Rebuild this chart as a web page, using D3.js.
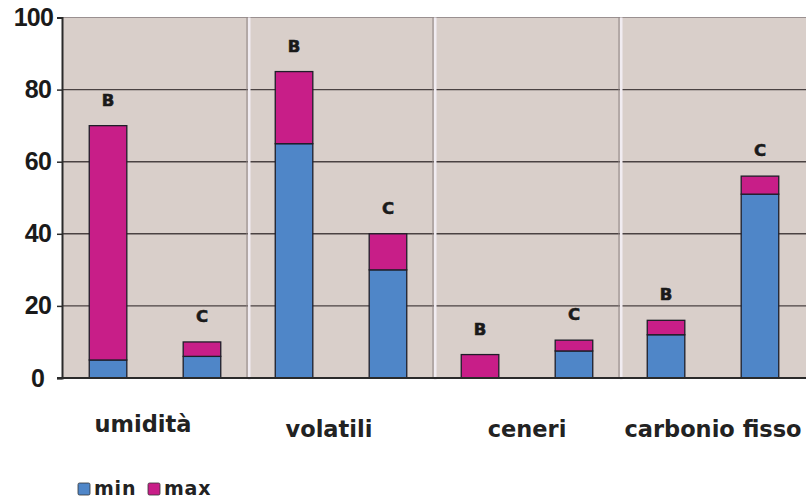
<!DOCTYPE html>
<html><head><meta charset="utf-8">
<script src="https://cdn.jsdelivr.net/npm/d3@7"></script>
<style>body{margin:0;background:#fff}svg{display:block}</style>
</head><body><svg id="c" width="806" height="501"></svg>
<script>
const categories = ["umidità", "volatili", "ceneri", "carbonio fisso"];
const groups = ["B", "C"];
const minB = [5, 65, 0, 12];
const maxB = [70, 85, 6.5, 16];
const minC = [6, 30, 7.5, 51];
const maxC = [10, 40, 10.5, 56];
const yTicks = [0, 20, 40, 60, 80, 100];
const seriesNames = ["min", "max"];

(function () {
const colMin = "#4f86c8", colMax = "#c81e88", bg = "#d9cfca";

const rows = [];
categories.forEach((c, i) => {
  rows.push({cat: c, grp: "B", min: minB[i], max: maxB[i]});
  rows.push({cat: c, grp: "C", min: minC[i], max: maxC[i]});
});

const svg = d3.select("#c");
const mL = 62, mR = 806, mT = 17.5, mB = 378;
const x0 = d3.scaleBand().domain(categories).range([mL, mR]);
const x1 = d3.scaleBand().domain(groups).range([0, x0.bandwidth()]).paddingInner(0.6).paddingOuter(0.29);
const y = d3.scaleLinear().domain([0, 100]).range([mB, mT]);

// background
svg.append("rect").attr("x", mL).attr("y", mT).attr("width", mR - mL).attr("height", mB - mT).attr("fill", bg);
svg.append("line").attr("x1", mL).attr("x2", mR).attr("y1", mT).attr("y2", mT).attr("stroke", "#9a9090").attr("stroke-width", 1);

// gridlines
svg.append("g").selectAll("line").data(yTicks.filter(d => d > 0 && d < 100)).join("line")
  .attr("x1", mL).attr("x2", mR).attr("y1", d => y(d)).attr("y2", d => y(d))
  .attr("stroke", "#4a4242").attr("stroke-width", 1.4);

// separators
categories.slice(1).forEach(c => {
  const xs = x0(c);
  svg.append("line").attr("x1", xs - 1).attr("x2", xs - 1).attr("y1", mT).attr("y2", mB).attr("stroke", "#8c8282").attr("stroke-width", 1);
  svg.append("rect").attr("x", xs).attr("y", mT).attr("width", 2.5).attr("height", mB - mT + 2).attr("fill", "#f1ecf1");
});

// bars
const bars = svg.append("g").selectAll("g").data(rows).join("g")
  .attr("transform", d => `translate(${x0(d.cat) + x1(d.grp)},0)`);
bars.filter(d => d.min > 0).append("rect")
  .attr("y", d => y(d.min)).attr("height", d => y(0) - y(d.min)).attr("width", x1.bandwidth())
  .attr("fill", colMin).attr("stroke", "#1e1e28").attr("stroke-width", 1.3);
bars.append("rect")
  .attr("y", d => y(d.max)).attr("height", d => y(d.min) - y(d.max)).attr("width", x1.bandwidth())
  .attr("fill", colMax).attr("stroke", "#1e1e28").attr("stroke-width", 1.3);
bars.append("text")
  .attr("x", x1.bandwidth() / 2).attr("y", d => y(d.max) - 20)
  .attr("text-anchor", "middle").attr("font-family", "DejaVu Sans").attr("font-weight", "bold")
  .attr("font-size", 16.5).attr("fill", "#1a1a1a").attr("stroke", "#1a1a1a").attr("stroke-width", 0.6).text(d => d.grp);

// bottom axis line
svg.append("line").attr("x1", mL - 5).attr("x2", mR).attr("y1", mB).attr("y2", mB).attr("stroke", "#2a2a2a").attr("stroke-width", 2);

// left axis
const ya = svg.append("g").attr("transform", `translate(${mL},0)`)
  .call(d3.axisLeft(y).tickValues(yTicks).tickSize(5).tickPadding(6).tickFormat(d3.format("d")));
ya.select(".domain").attr("stroke", "#2a2a2a").attr("stroke-width", 2);
ya.selectAll(".tick line").attr("stroke", "#2a2a2a").attr("stroke-width", 1.5);
ya.selectAll("text").attr("font-family", "Liberation Sans").attr("font-weight", "bold")
  .attr("font-size", 25).attr("fill", "#1a1a1a").attr("letter-spacing", -0.8)
  .attr("dx", d => d === 100 ? 2 : (d === 0 ? -7 : 0));

// category labels
svg.append("g").selectAll("text").data(categories).join("text")
  .attr("x", d => x0(d) + x0.bandwidth() / 2 - (d === categories[0] ? 12 : d === categories[1] ? 12 : 0))
  .attr("y", d => d === categories[0] ? 432 : 437)
  .attr("text-anchor", "middle").attr("font-family", "DejaVu Sans").attr("font-weight", "bold")
  .attr("font-size", 22.5).attr("fill", "#222").text(d => d);

// legend
const lg = svg.append("g").attr("transform", "translate(78,483)");
const colors = [colMin, colMax];
let lx = 0;
seriesNames.forEach((s, i) => {
  lg.append("rect").attr("x", lx).attr("y", 0).attr("width", 12).attr("height", 12).attr("fill", colors[i]).attr("stroke", "#333").attr("stroke-width", 0.8).attr("rx", 1.5);
  lg.append("text").attr("x", lx + 16).attr("y", 12).attr("font-family", "DejaVu Sans").attr("font-weight", "bold").attr("font-size", 19).attr("letter-spacing", 0.8).attr("fill", "#222").text(s);
  lx += 70;
});
})();
</script></body></html>
